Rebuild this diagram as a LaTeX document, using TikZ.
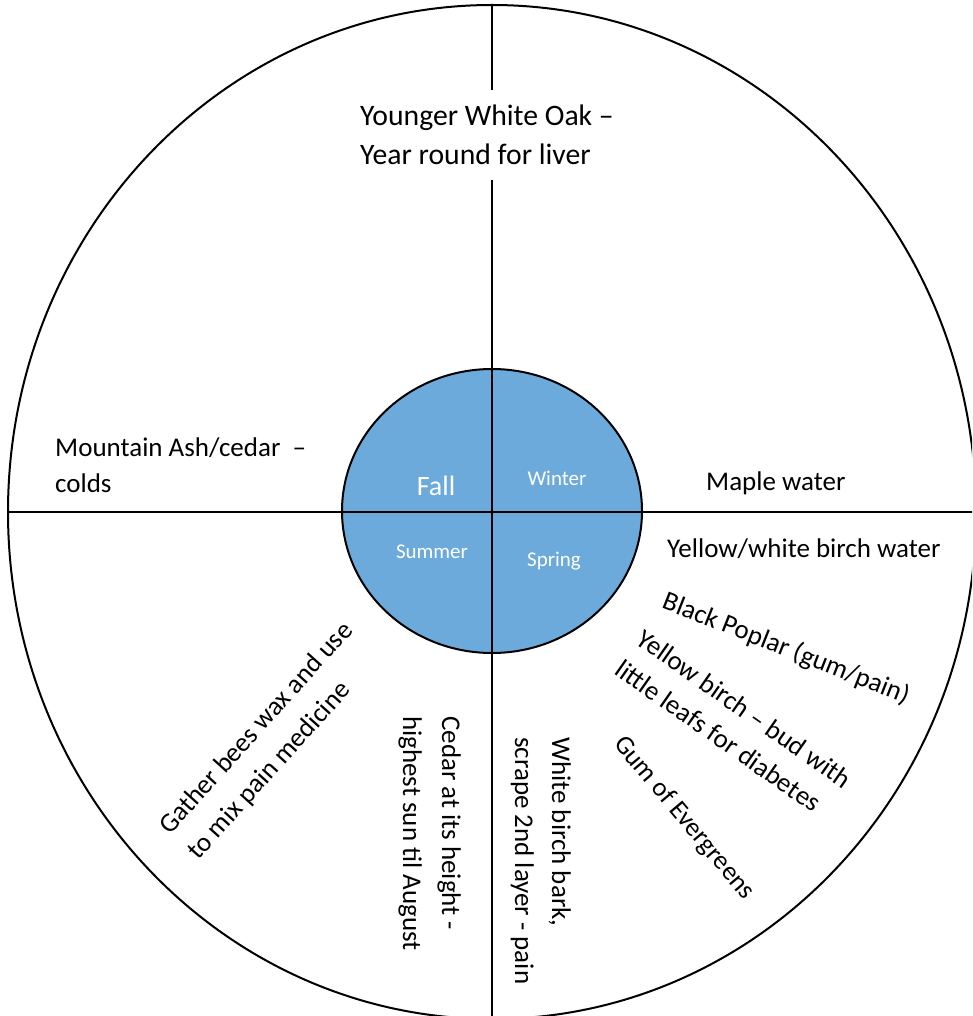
\documentclass[tikz,border=0pt]{standalone}
\usepackage{fontspec}
\setmainfont{Carlito}
\definecolor{seasonblue}{RGB}{108,170,220}
\tikzset{
  wheel/.style={line width=2pt},
  herb/.style={font=\fontsize{27}{38}\selectfont, align=left, inner sep=0pt, anchor=north west},
  season/.style={text=white, font=\fontsize{21}{24}\selectfont, inner sep=0pt, anchor=base},
}
\begin{document}
\begin{tikzpicture}[x=1pt,y=-1pt]
	\useasboundingbox (0,0) rectangle (972,1016);
	\clip (0,0) rectangle (972,1016);

	% outer wheel and inner seasons disc
	\coordinate (hub) at (492,511);
	\draw[wheel] (492,512) ellipse [x radius=484, y radius=507];
	\fill[seasonblue] (hub) ellipse [x radius=150, y radius=142];

	% vertical and horizontal axis
	\coordinate (north) at (492,5);
	\coordinate (south) at (492,1020);
	\coordinate (west)  at (8,512);
	\coordinate (east)  at (980,512);
	\draw[wheel]	(north)	--	(south)
					(west)	--	(east);
	\draw[wheel] (hub) ellipse [x radius=150, y radius=142];

	% seasons
	\draw	(436,495)	node[season, font=\fontsize{28}{30}\selectfont] (fall) {Fall}
			(557,485)	node[season]	(winter)	{Winter}
			(432,558)	node[season]	(summer)	{Summer}
			(554,566)	node[season]	(spring)	{Spring};

	% medicines, horizontal
	\draw	(348,89.5)	node[herb, fill=white, inner xsep=12pt, inner ysep=15pt, font=\fontsize{29.7}{39}\selectfont] (oak)
						{Younger White Oak --\\Year round for liver}
			(55,437.5)	node[herb, font=\fontsize{27}{36}\selectfont] (ash)
						{Mountain Ash/cedar~~--\\colds}
			(706,490)	node[herb, anchor=base west]	(maple)		{Maple water}
			(667,557)	node[herb, anchor=base west]	(birchwater)	{Yellow/white birch water};

	% medicines, turned
	\draw	(668,589)	node[herb, rotate=-21.5]	(poplar)	{Black Poplar (gum/pain)}
			(645.5,627.6)	node[herb, rotate=-35, font=\fontsize{27}{37}\selectfont] (yellowbirch)
						{Yellow birch -- bud with\\little leafs for diabetes}
			(627,732.5)	node[herb, rotate=-50, font=\fontsize{26.5}{37}\selectfont] (evergreens)
						{Gum of Evergreens}
			(571,737)	node[herb, rotate=-90, font=\fontsize{27}{37}\selectfont] (birchbark)
						{White birch bark,\\scrape 2nd layer - pain}
			(461,716)	node[herb, rotate=-90, font=\fontsize{27}{39}\selectfont] (cedar)
						{Cedar at its height -\\highest sun til August}
			(156,823)	node[herb, rotate=48]	(beeswax)
						{Gather bees wax and use\\to mix pain medicine};
\end{tikzpicture}
\end{document}
